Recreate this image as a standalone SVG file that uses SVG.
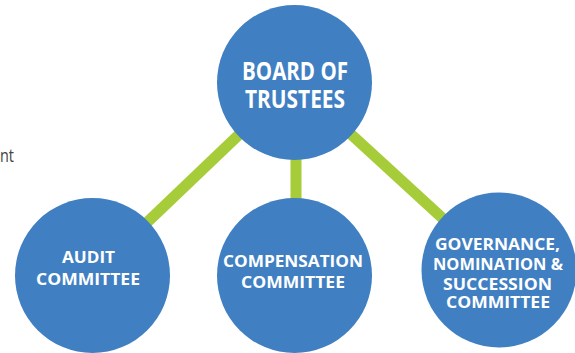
<svg xmlns="http://www.w3.org/2000/svg" width="575" height="353" viewBox="0 0 575 353">
<style>
.node{fill:#3f7fc2}
.conn{stroke:#a6cd39;stroke-width:11;fill:none}
.t{font-family:"Open Sans","Liberation Sans",sans-serif;font-weight:bold;fill:#fff;text-anchor:middle}
.big{font-size:25px}
.sm{font-size:16px}
.side{font-family:"Open Sans","Liberation Sans",sans-serif;font-size:18px;fill:#444}
</style>
<rect width="575" height="353" fill="#fff"/>
<text class="side" x="0" y="161.5" textLength="14" lengthAdjust="spacingAndGlyphs">nt</text>
<g id="connectors">
<line class="conn" x1="294" y1="82" x2="92" y2="275"/>
<line class="conn" x1="296" y1="82" x2="296" y2="275"/>
<line class="conn" x1="294" y1="82" x2="499" y2="270"/>
</g>
<g id="board">
<circle class="node" cx="294.5" cy="82.5" r="77.5"/>
<text class="t big" x="295" y="80" textLength="106" lengthAdjust="spacingAndGlyphs">BOARD OF</text>
<text class="t big" x="295" y="108" textLength="100" lengthAdjust="spacingAndGlyphs">TRUSTEES</text>
</g>
<g id="audit">
<circle class="node" cx="92.5" cy="275.5" r="77.5"/>
<text class="t sm" x="88.5" y="263" textLength="53" lengthAdjust="spacingAndGlyphs">AUDIT</text>
<text class="t sm" x="88" y="285" textLength="104" lengthAdjust="spacingAndGlyphs">COMMITTEE</text>
</g>
<g id="compensation">
<circle class="node" cx="294.5" cy="275.5" r="77.5"/>
<text class="t sm" x="293" y="266.5" textLength="140" lengthAdjust="spacingAndGlyphs">COMPENSATION</text>
<text class="t sm" x="293" y="288" textLength="104" lengthAdjust="spacingAndGlyphs">COMMITTEE</text>
</g>
<g id="governance">
<circle class="node" cx="499" cy="270" r="77.5"/>
<text class="t sm" x="497.5" y="250" textLength="125" lengthAdjust="spacingAndGlyphs">GOVERNANCE,</text>
<text class="t sm" x="498" y="270" textLength="130" lengthAdjust="spacingAndGlyphs">NOMINATION &amp;</text>
<text class="t sm" x="497.5" y="290" textLength="109" lengthAdjust="spacingAndGlyphs">SUCCESSION</text>
<text class="t sm" x="498" y="308" textLength="104" lengthAdjust="spacingAndGlyphs">COMMITTEE</text>
</g>
</svg>
